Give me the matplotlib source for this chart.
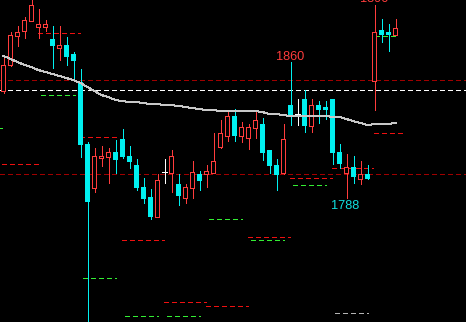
import matplotlib
matplotlib.use('Agg')
import matplotlib.pyplot as plt
from matplotlib.patches import Rectangle

# candle data (oldest -> newest)
opens = [1844.6, 1858.4, 1873.7, 1876.4, 1881.7, 1878.5, 1878.5, 1872.2, 1867.4, 1869.0,
         1864.2, 1849.4, 1816.6, 1793.3, 1809.2, 1809.7, 1812.3, 1819.2, 1810.2, 1805.4,
         1793.8, 1788.5, 1778.0, 1801.7, 1801.2, 1795.4, 1788.0, 1793.3, 1800.7, 1800.7,
         1801.2, 1815.0, 1820.8, 1831.4, 1820.8, 1819.7, 1825.0, 1827.2, 1813.4, 1805.4,
         1801.2, 1837.2, 1832.4, 1840.4, 1826.1, 1837.2, 1836.2, 1840.4, 1812.3, 1801.2,
         1804.4, 1798.0, 1800.7, 1849.9, 1876.9, 1875.9, 1874.3]
highs = [1863.2, 1875.9, 1879.0, 1883.8, 1894.0, 1888.0, 1882.2, 1879.0, 1879.0, 1873.2,
         1865.3, 1856.3, 1817.6, 1814.5, 1815.5, 1814.5, 1818.7, 1824.5, 1815.5, 1808.6,
         1798.6, 1792.7, 1800.7, 1808.6, 1813.4, 1800.7, 1795.4, 1807.6, 1802.3, 1805.4,
         1822.4, 1829.3, 1834.6, 1835.1, 1828.2, 1827.2, 1834.6, 1830.3, 1813.6, 1808.6,
         1827.2, 1860.0, 1840.4, 1845.2, 1840.4, 1839.3, 1839.3, 1840.5, 1816.6, 1811.3,
         1810.2, 1807.6, 1805.4, 1890.2, 1882.7, 1880.1, 1882.7]
lows = [1843.6, 1857.9, 1868.4, 1872.7, 1881.5, 1872.7, 1876.4, 1856.8, 1861.0, 1858.4,
        1849.9, 1809.7, 1715.0, 1791.2, 1804.9, 1795.9, 1801.2, 1809.2, 1803.9, 1792.2,
        1785.3, 1776.9, 1777.8, 1795.9, 1791.2, 1784.3, 1785.3, 1788.0, 1792.2, 1793.8,
        1801.0, 1814.5, 1818.2, 1818.2, 1817.6, 1813.9, 1819.7, 1808.1, 1801.2, 1792.2,
        1800.7, 1826.6, 1826.6, 1822.9, 1822.9, 1827.7, 1829.8, 1806.0, 1803.9, 1788.0,
        1795.9, 1795.4, 1798.0, 1834.6, 1870.6, 1865.8, 1874.3]
closes = [1858.4, 1874.3, 1875.9, 1882.2, 1890.2, 1880.1, 1880.1, 1868.4, 1869.0, 1862.6,
          1860.5, 1816.0, 1785.9, 1810.2, 1810.2, 1812.3, 1808.1, 1809.7, 1807.0, 1793.3,
          1787.5, 1778.0, 1797.5, 1801.7, 1810.2, 1789.0, 1793.8, 1801.7, 1797.0, 1802.3,
          1807.6, 1822.4, 1831.4, 1820.8, 1825.6, 1825.6, 1829.3, 1811.8, 1804.9, 1800.2,
          1819.2, 1831.9, 1832.4, 1826.1, 1837.2, 1834.6, 1834.6, 1811.8, 1806.0, 1804.4,
          1799.1, 1800.7, 1798.0, 1875.9, 1874.3, 1874.3, 1878.0]
# moving average
ma = [1863.2, 1861.6, 1860.0, 1858.4, 1857.3, 1855.7, 1854.7, 1853.6, 1852.6, 1851.5,
      1850.4, 1848.9, 1846.7, 1844.6, 1842.5, 1841.4, 1839.9, 1839.3, 1838.8, 1838.8,
      1838.3, 1837.7, 1837.7, 1837.2, 1837.2, 1836.7, 1836.2, 1835.6, 1835.1, 1834.6,
      1834.6, 1834.0, 1834.0, 1834.0, 1834.0, 1834.0, 1834.0, 1833.5, 1832.4, 1832.4,
      1831.9, 1831.4, 1831.4, 1831.4, 1831.4, 1831.4, 1831.4, 1830.9, 1830.9, 1829.8,
      1828.7, 1827.7, 1826.6, 1827.2, 1827.2, 1827.2, 1827.7]

# full width levels
dark_levels = [1850.4, 1800.7]
white_levels = [1845.2]

# short level segments: price, start bar, end bar, kind
seg_price = [1875.3, 1842.5, 1825.0, 1806.0, 1820.3, 1765.7, 1745.6, 1776.9, 1732.9, 1730.8,
             1725.5, 1725.5, 1767.3, 1765.7, 1798.6, 1794.9, 1803.9, 1822.4, 1873.7, 1727.1]
seg_start = [4.9, 5.4, -1.2, -0.2, 10.9, 16.9, 11.4, 29.4, 22.9, 28.9,
             17.4, 23.4, 34.9, 35.4, 40.9, 41.4, 46.9, 52.9, 53.1, 47.4]
seg_end = [10.9, 10.2, -0.2, 4.9, 16.4, 22.9, 16.1, 34.1, 28.9, 34.9,
           22.1, 28.1, 40.9, 40.1, 46.9, 46.1, 52.8, 56.9, 56.2, 52.1]
seg_kind = ['r', 'g', 'g', 'r', 'r', 'r', 'g', 'g', 'r', 'r',
            'g', 'g', 'r', 'g', 'r', 'g', 'r', 'r', 'g', 'w']

# swing labels: bar, price, text
lbl_bar = [41, 49, 53]
lbl_price = [1860.0, 1788.0, 1890.2]
lbl_text = ['1860', '1788', '1890']

plt.rcParams['lines.scale_dashes'] = False
RED = '#ff3c3c'
CYAN = '#00f0f0'
PX = 0.72  # one pixel in points

fig = plt.figure(figsize=(4.66, 3.22), dpi=100, facecolor='black')
ax = fig.add_axes([0, 0, 1, 1])
ax.set_facecolor('black')
ax.set_xlim(-0.5, 66.07)
ax.set_ylim(1722.4, 1892.8)
ax.axis('off')

dash = (0, (2.9, 2.2))
for lv in dark_levels:
    ax.axhline(lv, color='#a00000', lw=PX, ls=dash, antialiased=False, zorder=1)
for lv in white_levels:
    ax.axhline(lv, color='white', lw=PX, ls=dash, antialiased=False, zorder=1)

seg_colors = {'r': '#ee1010', 'g': '#33ee33', 'w': '#b4b4b4'}
for p, s, e, k in zip(seg_price, seg_start, seg_end, seg_kind):
    ax.plot([s, e], [p, p], color=seg_colors[k], lw=PX, ls=dash, antialiased=False, zorder=1)

ax.plot(range(len(ma)), ma, color='#c8c8c8', lw=PX, antialiased=False, zorder=4)

for i, (o, h, l, c) in enumerate(zip(opens, highs, lows, closes)):
    if c > o:
        ax.plot([i, i], [l, h], color=RED, lw=PX, antialiased=False, zorder=2)
        ax.add_patch(Rectangle((i - 0.29, o), 0.57, c - o, facecolor='black',
                               edgecolor=RED, lw=PX, antialiased=False, zorder=3))
    elif c < o:
        ax.plot([i, i], [l, h], color=CYAN, lw=PX, antialiased=False, zorder=2)
        ax.add_patch(Rectangle((i - 0.36, c), 0.71, o - c, facecolor=CYAN,
                               lw=0, antialiased=False, zorder=3))
    else:
        ax.plot([i, i], [l, h], color='white', lw=PX, antialiased=False, zorder=2)
        ax.plot([i - 0.36, i + 0.36], [o, o], color='white', lw=PX, antialiased=False, zorder=3)

font = ['Liberation Sans', 'DejaVu Sans']
for b, p, t in zip(lbl_bar, lbl_price, lbl_text):
    if t == '1788':
        ax.text(b - 0.15, p - 1.2, t, color='#10e0e0', ha='center', va='top',
                fontsize=9.2, family=font)
    elif t == '1890':
        # sits at the very top edge, mostly cut off as in the source chart
        ax.text(b, p + 0.2, t, color=RED, ha='center', va='bottom',
                fontsize=9.2, family=font)
    else:
        ax.text(b, p - 0.3, t, color=RED, ha='center', va='bottom',
                fontsize=9.2, family=font)

fig.savefig('out.png', dpi=100, facecolor='black')
